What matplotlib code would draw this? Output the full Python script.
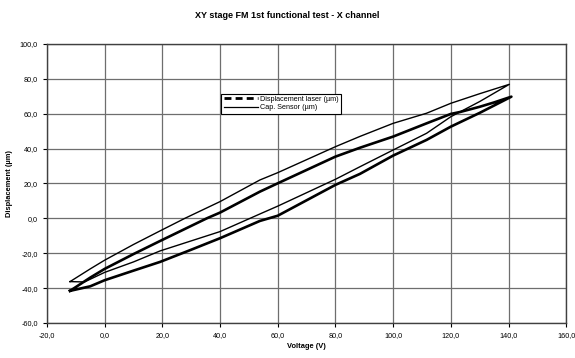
import matplotlib
matplotlib.use('Agg')
import matplotlib.pyplot as plt
from matplotlib.lines import Line2D
from matplotlib.ticker import FuncFormatter, MultipleLocator

plt.rcParams['font.family'] = ['Liberation Sans', 'DejaVu Sans']

# Displacement laser (um): ascending branch then descending branch
laser_v = [-12, -5, 0, 10, 19.2, 30, 40, 53.8, 60, 80, 88.5, 100, 111.6, 120, 130, 141,
           135, 130, 123.2, 120, 111.6, 100, 88.5, 80, 60, 53.8, 40, 35.4, 19.2, 10, 0, -5, -12]
laser_d = [-41.6, -39, -35.5, -30, -25, -18, -11.4, -1.5, 1.5, 19.2, 25.5, 36, 45, 52.6, 60.5, 69.8,
           66.5, 64, 61, 59.9, 54.5, 46.9, 40.5, 35.4, 20.1, 15.3, 3.3, 0, -13, -20.5, -29, -34, -41.6]

# Cap. Sensor (um)
cap_v = [-12, -7, 0, 10, 19.2, 40, 50.4, 53.8, 60, 80, 88.5, 100, 111.6, 120, 130, 140.3,
         130, 120, 111.6, 100, 88.5, 80, 60, 53.8, 40, 27.8, 19.2, 10, 0, -5, -12]
cap_d = [-36.3, -36.5, -31, -25, -18.7, -7.6, 0, 2.5, 7, 22.4, 29.6, 39.2, 48.8, 58.3, 67, 76.9,
         71.5, 66, 60.3, 54.5, 47, 41.1, 26.2, 22, 9.6, 0, -7.2, -15, -24, -29, -36.3]

fig = plt.figure(figsize=(5.75, 3.58), dpi=100)
ax = fig.add_axes([0.0817, 0.098, 0.903, 0.779])

ax.plot(laser_v, laser_d, color='black', lw=1.9, solid_joinstyle='round')
ax.plot(cap_v, cap_d, color='black', lw=1.0)

ax.set_xlim(-20, 160)
ax.set_ylim(-60, 100)
ax.xaxis.set_major_locator(MultipleLocator(20))
ax.yaxis.set_major_locator(MultipleLocator(20))
fmt = FuncFormatter(lambda v, p: f"{v:.1f}".replace('.', ','))
ax.xaxis.set_major_formatter(fmt)
ax.yaxis.set_major_formatter(fmt)
ax.tick_params(labelsize=5.2, length=3, width=0.8, direction='out', colors='black')
ax.grid(True, color='#6e6e6e', lw=0.9)
for s in ax.spines.values():
    s.set_color('#404040')
    s.set_linewidth(1.0)

ax.set_xlabel('Voltage (V)', fontsize=5.4, fontweight='bold', labelpad=3)
ax.set_ylabel('Displacement (µm)', fontsize=5.4, fontweight='bold', labelpad=5)
fig.suptitle('XY stage FM 1st functional test - X channel', fontsize=6.5, fontweight='bold', y=0.97)

handles = [Line2D([], [], color='black', lw=2.0, ls=(0, (2.5, 1.5))),
           Line2D([], [], color='black', lw=0.9)]
leg = ax.legend(handles, ['Displacement laser (µm)', 'Cap. Sensor (µm)'],
                loc='upper left', bbox_to_anchor=(0.329, 0.835), fontsize=5.2,
                handlelength=4.8, handletextpad=0.3, borderpad=0.3, labelspacing=0.2,
                fancybox=False, framealpha=1, edgecolor='black')
leg.get_frame().set_linewidth(0.8)

plt.savefig('out.png', dpi=100)
